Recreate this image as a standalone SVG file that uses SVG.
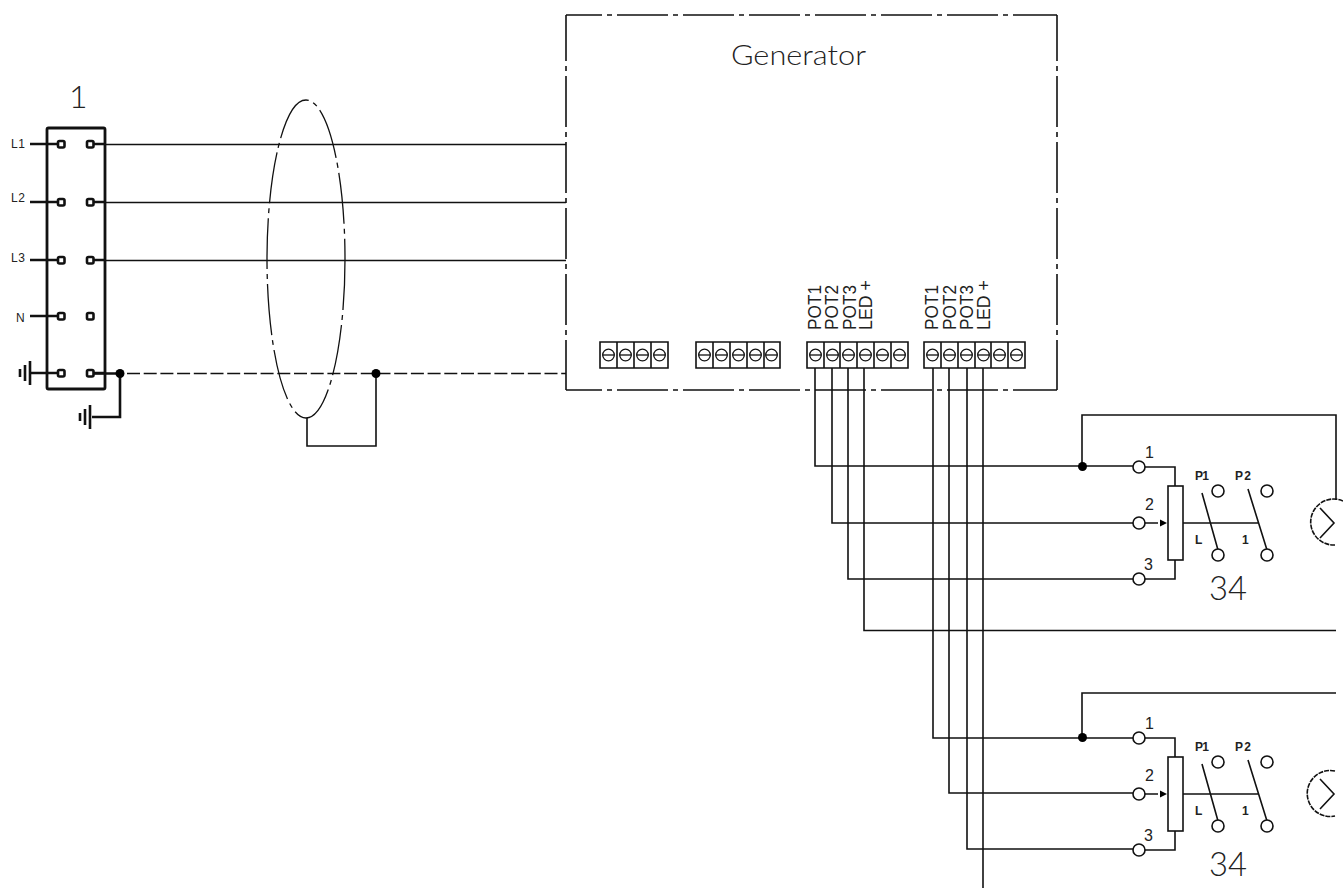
<svg xmlns="http://www.w3.org/2000/svg" width="1343" height="893" viewBox="0 0 1343 893">
<style>
.w{fill:none;stroke:#111;stroke-width:1.6}
.t{fill:none;stroke:#111;stroke-width:2.6}
.c{fill:#fff;stroke:#111;stroke-width:1.6}
.b{fill:none;stroke:#111;stroke-width:2.8}
.q{fill:#fff;stroke:#111;stroke-width:2.6}
.d{fill:#000;stroke:none}
.dd{fill:none;stroke:#111;stroke-width:1.6;stroke-dasharray:51 5 5 5}
.s{font-family:"Liberation Sans",sans-serif;font-size:12px;fill:#222}
.sb{font-family:"Liberation Sans",sans-serif;font-size:12px;font-weight:bold;fill:#222}
.n{font-family:"Liberation Sans",sans-serif;font-size:16px;fill:#222}
.big{font-family:"Lato","Liberation Sans",sans-serif;font-weight:300;fill:#222}
.v{font-family:"Liberation Sans",sans-serif;font-size:18px;fill:#222}
.scr{fill:none;stroke:#111;stroke-width:1.3}
</style>
<defs>
<g id="screw"><circle class="scr" r="5.800" cx="8.500" cy="13"/><path class="scr" d="M2.700 13H14.300"/></g>
<g id="ground"><path class="t" d="M0 -12V12M-5 -8V8M-10 -4V4"/></g>
<g id="pot">
<circle class="c" cx="1139" cy="0" r="6"/>
<circle class="c" cx="1139" cy="56" r="6"/>
<circle class="c" cx="1139" cy="112" r="6"/>
<path class="w" d="M1145 0H1175V19M1145 56H1158M1175 93V112H1145"/>
<rect class="c" x="1168" y="19" width="15" height="74"/>
<path class="d" d="M1160 52.500L1167 56L1160 59.500Z"/>
<path class="w" d="M1183 56H1259M1202 26L1218 83M1248 22L1267 83"/>
<circle class="c" cx="1218" cy="24" r="6"/>
<circle class="c" cx="1267" cy="24" r="6"/>
<circle class="c" cx="1218" cy="88" r="6"/>
<circle class="c" cx="1267" cy="88" r="6"/>
<text class="n" x="1145" y="-9">1</text>
<text class="n" x="1145" y="43">2</text>
<text class="n" x="1144" y="103">3</text>
<text class="sb" x="1195" y="13" textLength="14" lengthAdjust="spacing">P1</text>
<text class="sb" x="1235" y="13" textLength="16" lengthAdjust="spacing">P2</text>
<text class="sb" x="1195" y="77">L</text>
<text class="sb" x="1242" y="77">1</text>
</g>
</defs>
<rect width="1343" height="893" fill="#fff"/>

<g id="connectors">
<path class="w" d="M105 144.500H566M105 202.500H566M105 260.500H566"/>
<path class="w" stroke-dasharray="13 3.700" d="M127 373.500H566"/>
<path class="w" d="M376 373.500V446H307V418"/>
<path class="t" d="M94 373.500H120V417H92"/>
<path class="w" d="M815 368V466H1133M832 368V523H1133M848 368V579H1133"/>
<path class="w" d="M864 368V630.500H1336"/>
<path class="w" d="M933 368V738H1133M949 368V793H1133M967 368V849H1133"/>
<path class="w" d="M983 368V888"/>
<path class="w" d="M1082 466V415H1336V500"/>
<path class="w" d="M1082 738V693H1336"/>
<circle class="d" cx="120" cy="373.500" r="4.500"/>
<circle class="d" cx="376" cy="373.500" r="4.500"/>
<circle class="d" cx="1082.500" cy="466.500" r="4.500"/>
<circle class="d" cx="1082.500" cy="737.500" r="4.500"/>
</g>

<g id="terminal-strip">
<rect class="b" x="47" y="128" width="58" height="261" rx="1.500"/>
<path class="t" d="M30 144H58M30 202H58M30 260H58M30 316H58M30 373H58M94 144H105M94 202H105M94 260H105M94 373H105"/>
<rect class="q" x="58" y="141" width="6.500" height="6.500" rx="1.500"/><rect class="q" x="87" y="141" width="6.500" height="6.500" rx="1.500"/>
<rect class="q" x="58" y="199" width="6.500" height="6.500" rx="1.500"/><rect class="q" x="87" y="199" width="6.500" height="6.500" rx="1.500"/>
<rect class="q" x="58" y="257" width="6.500" height="6.500" rx="1.500"/><rect class="q" x="87" y="257" width="6.500" height="6.500" rx="1.500"/>
<rect class="q" x="58" y="313" width="6.500" height="6.500" rx="1.500"/><rect class="q" x="87" y="313" width="6.500" height="6.500" rx="1.500"/>
<rect class="q" x="58" y="370" width="6.500" height="6.500" rx="1.500"/><rect class="q" x="87" y="370" width="6.500" height="6.500" rx="1.500"/>
<use href="#ground" x="30" y="373"/>
<use href="#ground" x="90" y="417"/>
<text class="s" x="11" y="148" textLength="14" lengthAdjust="spacing">L1</text>
<text class="s" x="11" y="202" textLength="14" lengthAdjust="spacing">L2</text>
<text class="s" x="11" y="262" textLength="14" lengthAdjust="spacing">L3</text>
<text class="s" x="16" y="322">N</text>
<text class="big" x="69" y="108" font-size="32">1</text>
</g>

<g id="cable-screen">
<ellipse cx="306" cy="259" rx="39" ry="159" fill="none" stroke="#111" stroke-width="1.300" stroke-dasharray="51 5 5 5"/>
</g>

<g id="generator">
<path class="dd" stroke-dashoffset="15" d="M566 15H1057"/>
<path class="dd" stroke-dashoffset="15" d="M566 390H1057"/>
<path class="dd" stroke-dashoffset="5" d="M566 15V390"/>
<path class="dd" stroke-dashoffset="5" d="M1057 15V390"/>
<text class="big" x="731" y="64.500" font-size="28" textLength="135" lengthAdjust="spacingAndGlyphs">Generator</text>
</g>

<g id="terminal-block-1">
<path class="w" d="M600 342H668V368H600ZM617 342V368M634 342V368M651 342V368"/>
<use href="#screw" x="600" y="342"/><use href="#screw" x="617" y="342"/><use href="#screw" x="634" y="342"/><use href="#screw" x="651" y="342"/>
</g>
<g id="terminal-block-2">
<path class="w" d="M696 342H780V368H696ZM713 342V368M730 342V368M747 342V368M764 342V368"/>
<use href="#screw" x="696" y="342"/><use href="#screw" x="713" y="342"/><use href="#screw" x="730" y="342"/><use href="#screw" x="747" y="342"/><use href="#screw" x="763" y="342"/>
</g>
<g id="terminal-block-3">
<path class="w" d="M807 342H908V368H807ZM824 342V368M840 342V368M857 342V368M874 342V368M891 342V368"/>
<use href="#screw" x="807" y="342"/><use href="#screw" x="824" y="342"/><use href="#screw" x="840" y="342"/><use href="#screw" x="857" y="342"/><use href="#screw" x="874" y="342"/><use href="#screw" x="891" y="342"/>
<text class="v" transform="translate(821 330) rotate(-90)" textLength="45" lengthAdjust="spacingAndGlyphs">POT1</text>
<text class="v" transform="translate(838 330) rotate(-90)" textLength="45" lengthAdjust="spacingAndGlyphs">POT2</text>
<text class="v" transform="translate(856 330) rotate(-90)" textLength="45" lengthAdjust="spacingAndGlyphs">POT3</text>
<text class="v" transform="translate(872 330) rotate(-90)" textLength="50" lengthAdjust="spacingAndGlyphs">LED +</text>
</g>
<g id="terminal-block-4">
<path class="w" d="M924 342H1025V368H924ZM941 342V368M958 342V368M975 342V368M991 342V368M1008 342V368"/>
<use href="#screw" x="924" y="342"/><use href="#screw" x="941" y="342"/><use href="#screw" x="958" y="342"/><use href="#screw" x="975" y="342"/><use href="#screw" x="991" y="342"/><use href="#screw" x="1008" y="342"/>
<text class="v" transform="translate(938 330) rotate(-90)" textLength="45" lengthAdjust="spacingAndGlyphs">POT1</text>
<text class="v" transform="translate(956 330) rotate(-90)" textLength="45" lengthAdjust="spacingAndGlyphs">POT2</text>
<text class="v" transform="translate(973 330) rotate(-90)" textLength="45" lengthAdjust="spacingAndGlyphs">POT3</text>
<text class="v" transform="translate(990 330) rotate(-90)" textLength="50" lengthAdjust="spacingAndGlyphs">LED +</text>
</g>

<g id="potentiometer-1"><use href="#pot" x="0" y="467"/>
<text class="big" x="1209" y="600" font-size="33" textLength="38" lengthAdjust="spacingAndGlyphs">34</text></g>
<g id="potentiometer-2"><use href="#pot" x="0" y="738"/>
<text class="big" x="1209" y="876" font-size="33" textLength="38" lengthAdjust="spacingAndGlyphs">34</text></g>

<g id="lamp-1">
<path class="w" stroke-dasharray="5 1" d="M1343 501A23 23 0 1 0 1335 545"/>
<path class="w" d="M1320 508L1334 523L1320 538"/>
</g>
<g id="lamp-2">
<path class="w" stroke-dasharray="5 1" d="M1335 771A23 23 0 1 0 1335 816"/>
<path class="w" d="M1320 779L1334 794L1320 809"/>
</g>
</svg>
